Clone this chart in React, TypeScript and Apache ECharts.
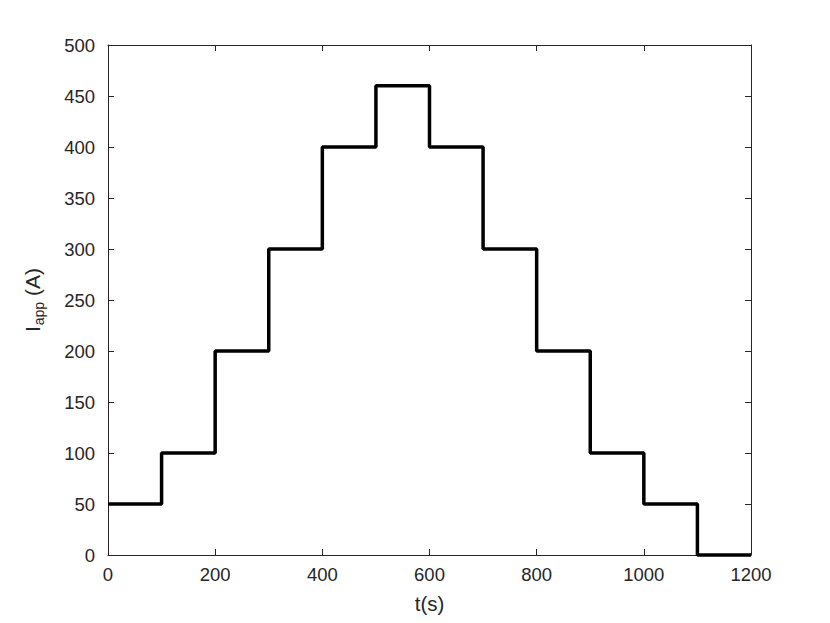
import React, { useEffect, useRef } from "react";
import * as echarts from "echarts";

const times = [0, 100, 200, 300, 400, 500, 600, 700, 800, 900, 1000, 1100, 1200];
const currents = [50, 100, 200, 300, 400, 460, 400, 300, 200, 100, 50, 0, 0];

const FONT = "'Liberation Sans', Arial, sans-serif";
const INK = "#262626";

export default function App() {
  const ref = useRef<HTMLDivElement>(null);
  useEffect(() => {
    const chart = echarts.init(ref.current!, null, { renderer: "svg" });
    const tick = { show: true, inside: true, length: 6, lineStyle: { color: INK, width: 1 } };
    const line = { show: true, onZero: false, lineStyle: { color: INK, width: 1 } };
    chart.setOption({
      animation: false,
      backgroundColor: "#fff",
      grid: { left: 108, right: 79, top: 45, bottom: 68, containLabel: false },
      xAxis: [
        {
          type: "value",
          min: 0,
          max: 1200,
          interval: 200,
          axisLine: line,
          axisTick: tick,
          splitLine: { show: false },
          axisLabel: {
            color: INK,
            fontSize: 18.5,
            fontFamily: FONT,
            margin: 10,
            formatter: (v: number) => String(v),
          },
          name: "t(s)",
          nameLocation: "middle",
          nameGap: 38,
          nameTextStyle: { color: INK, fontSize: 20.5, fontFamily: FONT },
        },
        {
          type: "value",
          position: "top",
          min: 0,
          max: 1200,
          interval: 200,
          axisLine: line,
          axisTick: tick,
          splitLine: { show: false },
          axisLabel: { show: false },
        },
      ],
      yAxis: [
        {
          type: "value",
          min: 0,
          max: 500,
          interval: 50,
          axisLine: line,
          axisTick: tick,
          splitLine: { show: false },
          axisLabel: {
            color: INK,
            fontSize: 18.5,
            fontFamily: FONT,
            margin: 13,
            formatter: (v: number) => String(v),
          },
          name: "{a|I}{b|app}{a|(A)}",
          nameLocation: "middle",
          nameGap: 62,
          nameRotate: 90,
          nameTextStyle: {
            color: INK,
            fontFamily: FONT,
            rich: {
              a: { fontSize: 21, fontFamily: FONT, color: INK },
              b: { fontSize: 14, fontFamily: FONT, color: INK, padding: [14, 6, 0, 1] },
            },
          },
        },
        {
          type: "value",
          position: "right",
          min: 0,
          max: 500,
          interval: 50,
          axisLine: line,
          axisTick: tick,
          splitLine: { show: false },
          axisLabel: { show: false },
        },
      ],
      series: [
        {
          type: "line",
          step: "end",
          data: times.map((t, i) => [t, currents[i]]),
          showSymbol: false,
          lineStyle: { color: "#000", width: 3.5 },
          clip: false,
        },
      ],
    });
    return () => chart.dispose();
  }, []);
  return (
    <div
      ref={ref}
      style={{ position: "fixed", left: 0, top: 0, width: 830, height: 623, background: "#fff" }}
    />
  );
}
